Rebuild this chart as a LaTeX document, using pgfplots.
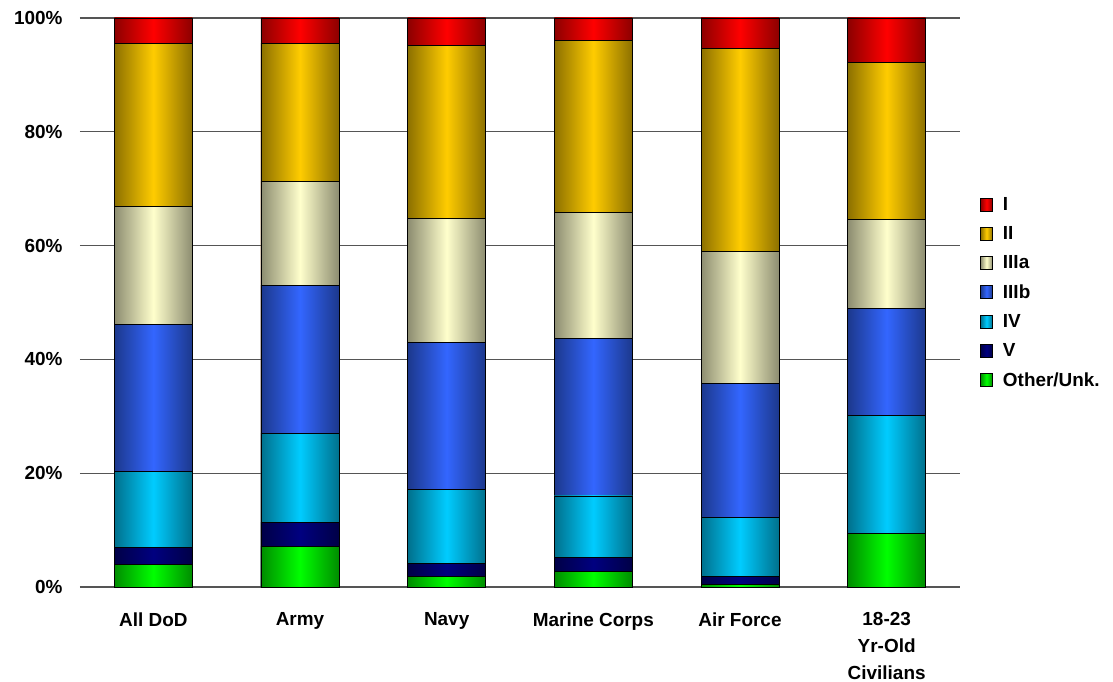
\documentclass[border=0pt]{standalone}
\usepackage{fontspec}
\setmainfont{Liberation Sans}
\usepackage{pgfplots}
\pgfplotsset{compat=1.18}

\definecolor{cI}{HTML}{FF0000}
\definecolor{cII}{HTML}{FFCC00}
\definecolor{cIIIa}{HTML}{FFFFCC}
\definecolor{cIIIb}{HTML}{3366FF}
\definecolor{cIV}{HTML}{00CCFF}
\definecolor{cV}{HTML}{000080}
\definecolor{cOth}{HTML}{00FF00}
\definecolor{gridc}{HTML}{555555}

\pgfplotsset{
  cyl/.style={draw=black, line width=0.9bp, left color=#1!55!black, right color=#1!55!black, middle color=#1},
}

% one category: x, then the top edge (cumulative %) of Other, V, IV, IIIb, IIIa, II, I.
% Every segment is its own bar from 0 up to its top, drawn from the top one down,
% so that each bar gets its own left-to-right shading.
\newcommand{\onebar}[8]{%
  \addplot[cyl=cI, forget plot] coordinates {(#1,#8)};
  \addplot[cyl=cII, forget plot] coordinates {(#1,#7)};
  \addplot[cyl=cIIIa, forget plot] coordinates {(#1,#6)};
  \addplot[cyl=cIIIb, forget plot] coordinates {(#1,#5)};
  \addplot[cyl=cIV, forget plot] coordinates {(#1,#4)};
  \addplot[cyl=cV, forget plot] coordinates {(#1,#3)};
  \addplot[cyl=cOth, forget plot] coordinates {(#1,#2)};
}

\begin{document}
\begin{tikzpicture}
\begin{axis}[
  scale only axis,
  width=880bp, height=569bp,
  ybar, bar shift=0pt,
  bar width=78bp,
  xmin=-0.5, xmax=5.5,
  ymin=0, ymax=100,
  xtick={0,1,2,3,4,5},
  xticklabels={All DoD, Army, Navy, Marine Corps, Air Force, {18-23\\Yr-Old\\Civilians}},
  ytick={0,20,40,60,80,100},
  yticklabels={0\%,20\%,40\%,60\%,80\%,100\%},
  axis line style={draw=none},
  major tick length=0pt,
  ymajorgrids,
  grid style={gridc, line width=1.3bp},
  tick label style={font=\fontsize{19}{27}\selectfont\bfseries},
  xticklabel style={align=center, anchor=north, yshift=-22bp},
  yticklabel style={xshift=-14bp},
  legend style={draw=none, fill=none, at={(1.0227,0.688)}, anchor=north west,
    inner sep=0pt, row sep=10.5bp, font=\fontsize{19}{22}\selectfont\bfseries,
    legend cell align=left},
  legend image code/.code={\draw[#1, line width=0.8bp] (0bp,-6.5bp) rectangle (12bp,6.5bp);},
]
%        x   Other  V    IV    IIIb  IIIa  II    I
\onebar{0}{4.0}{7.0}{20.3}{46.2}{66.8}{95.5}{100}
\onebar{1}{7.1}{11.4}{27.0}{53.0}{71.2}{95.5}{100}
\onebar{2}{1.8}{4.2}{17.2}{43.0}{64.8}{95.2}{100}
\onebar{3}{2.8}{5.2}{16.0}{43.6}{65.9}{96.1}{100}
\onebar{4}{0.5}{1.9}{12.3}{35.7}{59.0}{94.6}{100}
\onebar{5}{9.4}{9.4}{30.1}{48.9}{64.6}{92.1}{100}
\addlegendimage{cyl=cI}\addlegendentry{\hspace{8bp}I}
\addlegendimage{cyl=cII}\addlegendentry{\hspace{8bp}II}
\addlegendimage{cyl=cIIIa}\addlegendentry{\hspace{8bp}IIIa}
\addlegendimage{cyl=cIIIb}\addlegendentry{\hspace{8bp}IIIb}
\addlegendimage{cyl=cIV}\addlegendentry{\hspace{8bp}IV}
\addlegendimage{cyl=cV}\addlegendentry{\hspace{8bp}V}
\addlegendimage{cyl=cOth}\addlegendentry{\hspace{8bp}Other/Unk.}
\end{axis}
\pgfresetboundingbox
\path[use as bounding box] (-80bp,-95bp) rectangle (1033bp,587bp);
\end{tikzpicture}
\end{document}
